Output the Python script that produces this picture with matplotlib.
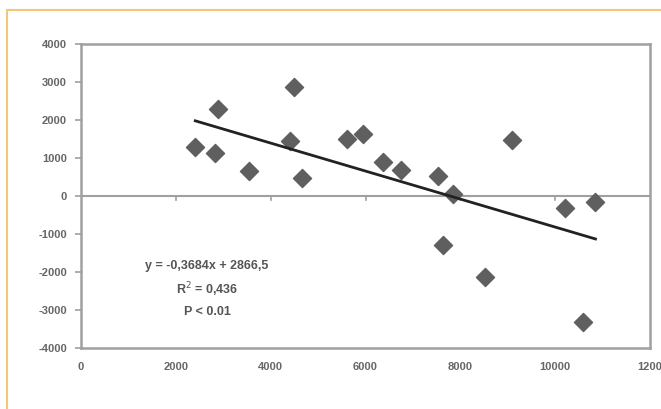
import numpy as np
import matplotlib.pyplot as plt
from matplotlib.patches import Rectangle

# data
x_vals = [2410, 2830, 2880, 3550, 4400, 4500, 4660, 5610, 5940, 6360,
          6750, 7530, 7630, 7850, 8530, 9080, 10200, 10590, 10850]
y_vals = [1280, 1140, 2280, 650, 1440, 2860, 480, 1500, 1640, 890,
          690, 520, -1280, 50, -2130, 1480, -320, -3320, -150]

slope = -0.3684
intercept = 2866.5
eq_lines = ["y = -0,3684x + 2866,5", "R$^{2}$ = 0,436", "P < 0.01"]

x_ticks = [0, 2000, 4000, 6000, 8000, 10000, 12000]
x_labels = ["0", "2000", "4000", "6000", "8000", "10000", "1200"]
y_ticks = [-4000, -3000, -2000, -1000, 0, 1000, 2000, 3000, 4000]

plt.rcParams['font.family'] = ['Liberation Sans', 'DejaVu Sans']
plt.rcParams['axes.unicode_minus'] = False

fig = plt.figure(figsize=(6.61, 4.09), dpi=100)
fig.patches.append(Rectangle((7/661, -0.1), 1.2, (409-10)/409 + 0.1,
                             transform=fig.transFigure, fill=False,
                             edgecolor='#f2c777', lw=1.5))

ax = fig.add_axes([81/661, 1 - 348/409, (650-81)/661, (348-44)/409])
ax.set_xlim(0, 12000)
ax.set_ylim(-4000, 4000)

for s in ax.spines.values():
    s.set_color('#a0a0a0')
    s.set_linewidth(1.8)

ax.axhline(0, color='#a0a0a0', lw=1.5, zorder=1)
# little x ticks sitting on the zero line, excel style
for xt in x_ticks[1:-1]:
    ax.plot([xt, xt], [0, -100], color='#a0a0a0', lw=1.2, zorder=1)

ax.scatter(x_vals, y_vals, marker='D', s=85, color='#5f5f5f', zorder=3)

xl = np.array([min(x_vals), max(x_vals)])
ax.plot(xl, slope * xl + intercept, color='#222222', lw=2, zorder=4)

for txt, yy in zip(eq_lines, [-1830, -2460, -3060]):
    ax.text(2660, yy, txt, ha='center', va='center', fontsize=9,
            color='#555555', fontweight='bold')

ax.set_xticks(x_ticks)
ax.set_xticklabels(x_labels)
ax.set_yticks(y_ticks)
ax.tick_params(axis='x', length=0, pad=10, labelsize=8, labelcolor='#666666')
ax.tick_params(axis='y', length=4, width=1.2, color='#a0a0a0', pad=6,
               labelsize=8, labelcolor='#666666')
for lab in ax.get_xticklabels() + ax.get_yticklabels():
    lab.set_fontweight('bold')

fig.savefig('out.png', dpi=100)
